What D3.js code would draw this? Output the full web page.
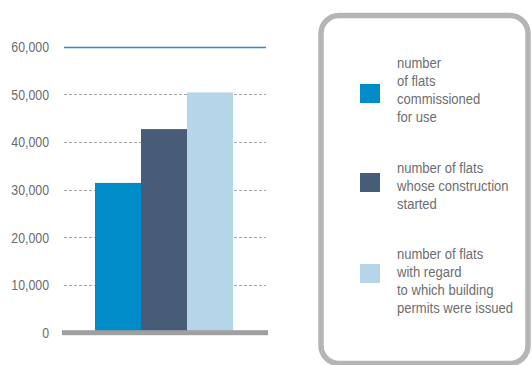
<!DOCTYPE html>
<html>
<head>
<meta charset="utf-8">
<script src="https://cdn.jsdelivr.net/npm/d3@7"></script>
<style>
  html, body { margin: 0; padding: 0; background: #fff; }
  svg { display: block; }
  text { font-family: "Liberation Sans", Arial, sans-serif; }
</style>
</head>
<body>
<svg id="chart" width="532" height="365"></svg>
<script>
// Housing statistics: flats commissioned, started and permitted
const series = ["commissioned", "started", "permits"];
const values = [31400, 42700, 50400];
const colors = ["#008bc9", "#475d77", "#b5d6e9"];
const legendLabels = [
  ["number", "of flats", "commissioned", "for use"],
  ["number of flats", "whose construction", "started"],
  ["number of flats", "with regard", "to which building", "permits were issued"]
];
const tickValues = [0, 10000, 20000, 30000, 40000, 50000, 60000];

const svg = d3.select("#chart");

const y = d3.scaleLinear().domain([0, 60000]).range([332.5, 46.7]);
const x = d3.scaleBand().domain(series).range([95, 233]).padding(0);
const fmt = d3.format(",");

// Gridlines: dashed grey, top one solid blue
svg.append("g")
  .selectAll("line")
  .data(tickValues.filter(d => d > 0))
  .join("line")
  .attr("x1", 64).attr("x2", 266)
  .attr("y1", d => Math.round(y(d)) + 0.5)
  .attr("y2", d => Math.round(y(d)) + 0.5)
  .attr("stroke", d => d === 60000 ? "#2f8ccb" : "#a6a6a6")
  .attr("stroke-width", d => d === 60000 ? 1.5 : 1)
  .attr("stroke-dasharray", d => d === 60000 ? null : "3,2");

// Bars
svg.append("g")
  .selectAll("rect")
  .data(series)
  .join("rect")
  .attr("x", d => x(d))
  .attr("width", x.bandwidth())
  .attr("y", (d, i) => y(values[i]))
  .attr("height", (d, i) => y(0) - y(values[i]))
  .attr("fill", (d, i) => colors[i]);

// Baseline
svg.append("rect")
  .attr("x", 62).attr("width", 206)
  .attr("y", y(0) - 2.3).attr("height", 5)
  .attr("fill", "#a0a0a0");

// Y axis labels (horizontally condensed)
const axis = d3.axisLeft(y)
  .tickValues(tickValues)
  .tickFormat(fmt)
  .tickSize(0)
  .tickPadding(0);
const gAxis = svg.append("g").attr("transform", "translate(49,0) scale(0.88,1)").call(axis);
gAxis.select(".domain").remove();
gAxis.selectAll("text")
  .attr("fill", "#6b6b6b")
  .attr("font-size", 14)
  .attr("font-family", "'Liberation Sans', sans-serif")
  .attr("dy", "0.35em");

// Legend box (runs off the bottom edge)
svg.append("rect")
  .attr("x", 321).attr("y", 15.5)
  .attr("width", 207).attr("height", 348)
  .attr("rx", 18).attr("ry", 18)
  .attr("fill", "#fff")
  .attr("stroke", "#b5b5b5")
  .attr("stroke-width", 5.5);

const swatchY = [84, 173, 264];
const textTop = [63, 168, 254];
const lineH = 18;

const leg = svg.append("g");
series.forEach((s, i) => {
  leg.append("rect")
    .attr("x", 360).attr("y", swatchY[i])
    .attr("width", 20).attr("height", 19)
    .attr("fill", colors[i]);
  const t = leg.append("text")
    .attr("transform", "translate(397,0) scale(0.87,1)")
    .attr("fill", "#6d6e71")
    .attr("font-size", 15);
  legendLabels[i].forEach((line, j) => {
    t.append("tspan")
      .attr("x", 0)
      .attr("y", textTop[i] + j * lineH)
      .attr("dy", "0.35em")
      .text(line);
  });
});
</script>
</body>
</html>
